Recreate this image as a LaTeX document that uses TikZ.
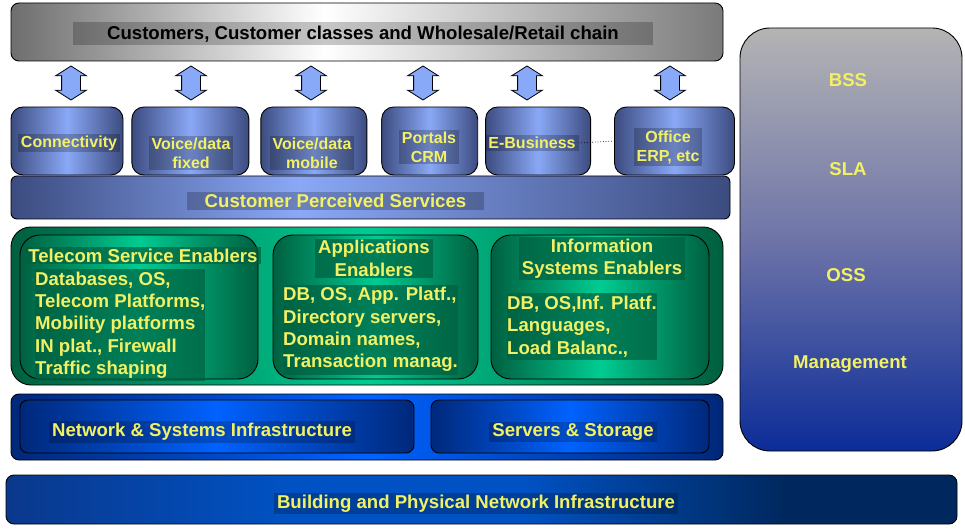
\documentclass[tikz,border=0pt]{standalone}
\usepackage{fontspec}
\setmainfont{Liberation Sans}
\usepackage{xcolor}
\usetikzlibrary{shapes.arrows,positioning}

\definecolor{txtyel}{RGB}{242,240,100}
\definecolor{svdark}{RGB}{60,76,128}
\definecolor{svlight}{RGB}{138,168,246}
\definecolor{grdark}{RGB}{0,96,64}
\definecolor{grlight}{RGB}{0,204,146}
\definecolor{bldark}{RGB}{0,40,122}
\definecolor{bllight}{RGB}{0,98,255}
\definecolor{bpnavy}{RGB}{0,40,94}
\definecolor{bpmid}{RGB}{0,82,196}
\definecolor{bpleft}{RGB}{10,56,140}
\definecolor{arrblue}{RGB}{136,168,248}
\definecolor{topgray}{RGB}{110,110,110}
\definecolor{topgrayr}{RGB}{122,122,122}
\definecolor{bssgray}{RGB}{180,180,180}
\definecolor{bssmid}{RGB}{110,116,168}
\definecolor{bssblue}{RGB}{12,44,152}

\pgfdeclarehorizontalshading{cpsshade}{100bp}{color(0bp)=(svdark); color(25bp)=(svdark); color(45bp)=(svlight); color(75bp)=(svdark); color(100bp)=(svdark)}
\pgfdeclarehorizontalshading{custshade}{100bp}{color(0bp)=(topgray); color(25bp)=(topgray); color(47bp)=(white); color(75bp)=(topgrayr); color(100bp)=(topgrayr)}
\pgfdeclarehorizontalshading{bpshade}{100bp}{color(0bp)=(bpleft); color(25bp)=(bpleft); color(40bp)=(bpmid); color(52bp)=(bpmid); color(66bp)=(bpnavy); color(100bp)=(bpnavy)}

\begin{document}
\begin{tikzpicture}[x=1pt, y=-1pt,
    box/.style={draw=black, line width=0.9pt, rounded corners=#1, inner sep=0pt},
    box/.default=8pt,
    svc/.style={box=12pt, left color=svdark, right color=svdark, middle color=svlight, minimum height=68pt},
    gbox/.style={box=20pt, left color=grdark, right color=grdark, middle color=grlight, minimum height=144pt},
    bbox/.style={box=8pt, left color=bldark, right color=bldark, middle color=bllight, minimum height=53pt},
    lbl/.style={text=txtyel, font=\bfseries\fontsize{18.6}{22.3}\selectfont},
    tag/.style={lbl, fill=black, fill opacity=.22, text opacity=1, inner xsep=3pt, inner ysep=2pt},
    stag/.style={tag, font=\bfseries\fontsize{16}{19}\selectfont, align=center},
    gtag/.style={tag, fill=grdark, fill opacity=.7},
    dblarrow/.style={double arrow, shape border rotate=90, draw=black, line width=0.8pt, fill=arrblue,
        minimum height=34pt, inner sep=9pt, double arrow head extend=6pt, double arrow tip angle=115}
]
    \useasboundingbox (0,0) rectangle (965,529);

    % customers and services
    \node[box, shade, shading=custshade, minimum width=712pt, minimum height=58pt] (cust) at (367,32) {};
    \node[tag, text=black, minimum width=580pt, minimum height=23pt] (cust-t) at (363,34) {Customers, Customer classes and Wholesale/Retail chain};

    \node[box=6pt, shade, shading=cpsshade, minimum width=719pt, minimum height=43pt] (cps) at (370.5,197.5) {};
    \node[tag, minimum width=297pt] (cps-t) at (335.5,201) {Customer Perceived Services};

    \node[svc, minimum width=112pt] (conn) at (67,141) {};
    \node[svc, minimum width=117pt, right=8pt of conn] (vdf) {};
    \node[svc, minimum width=106pt, right=11pt of vdf] (vdm) {};
    \node[svc, minimum width=96pt, right=14pt of vdm] (crm) {};
    \node[svc, minimum width=105pt, right=7pt of crm] (ebiz) {};
    \node[svc, minimum width=120pt, right=23pt of ebiz] (office) {};

    \node[stag] (conn-t) at (69,143) {Connectivity};
    \node[stag] (vdf-t) at (191,153) {Voice/data\\fixed};
    \node[stag] (vdm-t) at (312,153) {Voice/data\\mobile};
    \node[stag] (crm-t) at (429,147) {Portals\\CRM};
    \node[stag] (ebiz-t) at (532,143) {E-Business};
    \node[stag] (office-t) at (668,147) {Office\\ERP, etc};
    \draw[dotted, line width=0.7pt] (ebiz-t.east) -- (office.west);

    \foreach \x/\n in {71/a1, 191/a2, 311/a3, 423/a4, 527/a5, 670/a6}
        \node[dblarrow] (\n) at (\x,83) {};

    % enablers
    \node[box=20pt, left color=grdark, right color=grdark, middle color=grlight, minimum width=712pt, minimum height=158pt] (enab) at (367,306) {};
    \node[gbox, minimum width=238pt] (tse) at (139,307) {};
    \node[gbox, minimum width=205pt] (ae) at (375.5,307) {};
    \node[gbox, minimum width=218pt] (ise) at (600,307) {};

    \node[gtag] (tse-t) at (143,255.5) {Telecom Service Enablers};
    \node[gtag, align=left, anchor=west, inner xsep=0pt, minimum height=112pt] (tse-l) at (35,325)
        {Databases, OS,\\Telecom Platforms,\\Mobility platforms\\IN plat., Firewall\\Traffic shaping};
    \node[gtag, align=center] (ae-t) at (374,258.5) {Applications\\Enablers};
    \node[gtag, align=left, anchor=west, inner xsep=0pt, minimum height=90pt] (ae-l) at (283,329.5)
        {DB, OS, App. Platf.,\\Directory servers,\\Domain names,\\Transaction manag.};
    \node[gtag, align=center] (ise-t) at (602,258.5) {Information\\Systems Enablers};
    \node[gtag, align=left, anchor=west, inner xsep=0pt, minimum height=67pt] (ise-l) at (507,326.5)
        {DB, OS,Inf. Platf.\\Languages,\\Load Balanc.,};

    % infrastructure
    \node[box, left color=bldark, right color=bldark, middle color=bllight, minimum width=712pt, minimum height=66pt] (infra) at (367,427) {};
    \node[bbox, minimum width=394pt] (nsi) at (217,426.5) {};
    \node[bbox, minimum width=278pt] (sst) at (570,426.5) {};
    \node[tag] (nsi-t) at (202,432) {Network \& Systems Infrastructure};
    \node[tag] (sst-t) at (573,432) {Servers \& Storage};

    \node[box, shade, shading=bpshade, minimum width=951pt, minimum height=49pt] (bpi) at (481.5,499.5) {};
    \node[tag] (bpi-t) at (476,503.5) {Building and Physical Network Infrastructure};

    % management column
    \node[box=30pt, top color=bssgray, bottom color=bssblue, middle color=bssmid, minimum width=222pt, minimum height=423pt] (bss) at (851,239.5) {};
    \node[lbl] (bss-t) at (848,80) {BSS};
    \node[lbl] (sla-t) at (848,169) {SLA};
    \node[lbl] (oss-t) at (846,275) {OSS};
    \node[lbl] (mgmt-t) at (850,364) {Management};
\end{tikzpicture}
\end{document}
